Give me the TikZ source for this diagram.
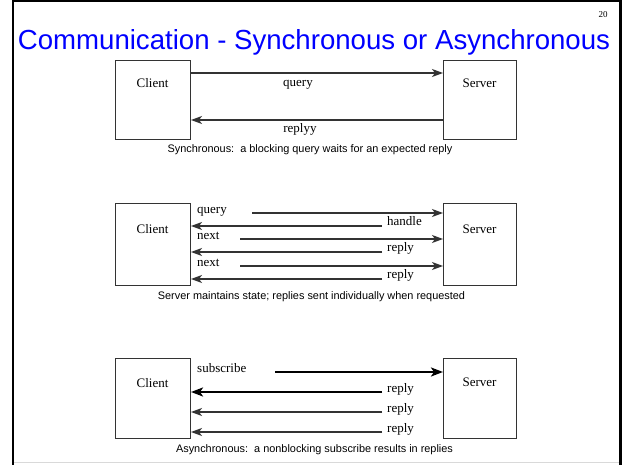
\documentclass[tikz,border=0pt]{standalone}
\usepackage{fontspec}
\setmainfont{Liberation Serif}
\newfontfamily\arialf{Liberation Sans}
\usetikzlibrary{arrows.meta}
\definecolor{titleblue}{RGB}{0,0,255}
\begin{document}
\begin{tikzpicture}[x=1pt,y=-1pt,
 box/.style={draw=black!80, line width=1pt, anchor=north west, inner sep=0pt},
 txt/.style={font=\fontsize{13}{15}\selectfont, inner sep=0pt},
 lblw/.style={txt, anchor=base west},
 arr/.style={draw=black!80, line width=1.2pt, -{Stealth[length=11pt,width=8pt,inset=3pt]}},
 tarr/.style={draw=black, line width=2.4pt, -{Stealth[length=12pt,width=9pt,inset=3pt]}},
 captxt/.style={font=\arialf\fontsize{10.9}{13}\selectfont, anchor=base, inner sep=0pt},
]
\useasboundingbox (0,0) rectangle (624,465);
\fill[white] (0,0) rectangle (624,465);
\draw[line width=2.5pt] (13,465) -- (13,1.25) -- (620.5,1.25) -- (620.5,465);
\draw[black!15, line width=1.5pt] (14.25,462.5) -- (619.25,462.5);

\node[font=\arialf\fontsize{27.6}{32}\selectfont, text=titleblue, anchor=base, inner sep=0pt] (title) at (314,50) {Communication - Synchronous or Asynchronous};
\node[font=\fontsize{9}{10}\selectfont, anchor=base, inner sep=0pt] (pg) at (603,18) {20};

% ---------- diagram 1 ----------
\node[box, minimum width=75pt, minimum height=79pt] (c1) at (115,60) {};
\node[box, minimum width=73pt, minimum height=79pt] (s1) at (443,60) {};
\node[txt, anchor=base] (c1t) at (152.5,88) {Client};
\node[txt, anchor=base] (s1t) at (479.5,88) {Server};
\coordinate (y1a) at (0,73);
\coordinate (y1b) at (0,120);
\draw[arr] (c1.east |- y1a) -- (s1.west |- y1a);
\draw[arr] (s1.west |- y1b) -- (c1.east |- y1b);
\node[txt, anchor=base] (l1a) at (298,87) {query};
\node[txt, anchor=base] (l1b) at (300,133) {replyy};
\node[captxt] (cap1) at (310,153) {Synchronous:\ \ a blocking query waits for an expected reply};

% ---------- diagram 2 ----------
\node[box, minimum width=75pt, minimum height=82pt] (c2) at (115,203) {};
\node[box, minimum width=73pt, minimum height=82pt] (s2) at (443,203) {};
\node[txt, anchor=base] (c2t) at (152.5,234) {Client};
\node[txt, anchor=base] (s2t) at (479.5,234) {Server};
\coordinate (q2) at (252,213);
\coordinate (h2) at (382,226);
\coordinate (n2a) at (240,239);
\coordinate (r2a) at (382,252);
\coordinate (n2b) at (240,266);
\coordinate (r2b) at (382,279);
\draw[arr] (q2) -- (s2.west |- q2);
\draw[arr] (h2) -- (c2.east |- h2);
\draw[arr] (n2a) -- (s2.west |- n2a);
\draw[arr] (r2a) -- (c2.east |- r2a);
\draw[arr] (n2b) -- (s2.west |- n2b);
\draw[arr] (r2b) -- (c2.east |- r2b);
\node[lblw] (lq2) at (197,214) {query};
\node[lblw] (lh2) at (387,226) {handle};
\node[lblw] (ln2a) at (197,240) {next};
\node[lblw] (lr2a) at (387,252) {reply};
\node[lblw] (ln2b) at (197,267) {next};
\node[lblw] (lr2b) at (387,279) {reply};
\node[captxt] (cap2) at (311.5,299) {Server maintains state; replies sent individually when requested};

% ---------- diagram 3 ----------
\node[box, minimum width=75pt, minimum height=80pt] (c3) at (115,358) {};
\node[box, minimum width=73pt, minimum height=80pt] (s3) at (443,358) {};
\node[txt, anchor=base] (c3t) at (152.5,387) {Client};
\node[txt, anchor=base] (s3t) at (479.5,386) {Server};
\coordinate (sb3) at (275,372);
\coordinate (r3a) at (382,392);
\coordinate (r3b) at (382,412);
\coordinate (r3c) at (382,432);
\draw[tarr] (sb3) -- (s3.west |- sb3);
\draw[tarr] (r3a) -- (c3.east |- r3a);
\draw[arr] (r3b) -- (c3.east |- r3b);
\draw[arr] (r3c) -- (c3.east |- r3c);
\node[lblw] (ls3) at (197,372) {subscribe};
\node[lblw] (lr3a) at (387,392) {reply};
\node[lblw] (lr3b) at (387,412) {reply};
\node[lblw] (lr3c) at (387,432) {reply};
\node[captxt] (cap3) at (314.5,452) {Asynchronous:\ \ a nonblocking subscribe results in replies};
\end{tikzpicture}
\end{document}
